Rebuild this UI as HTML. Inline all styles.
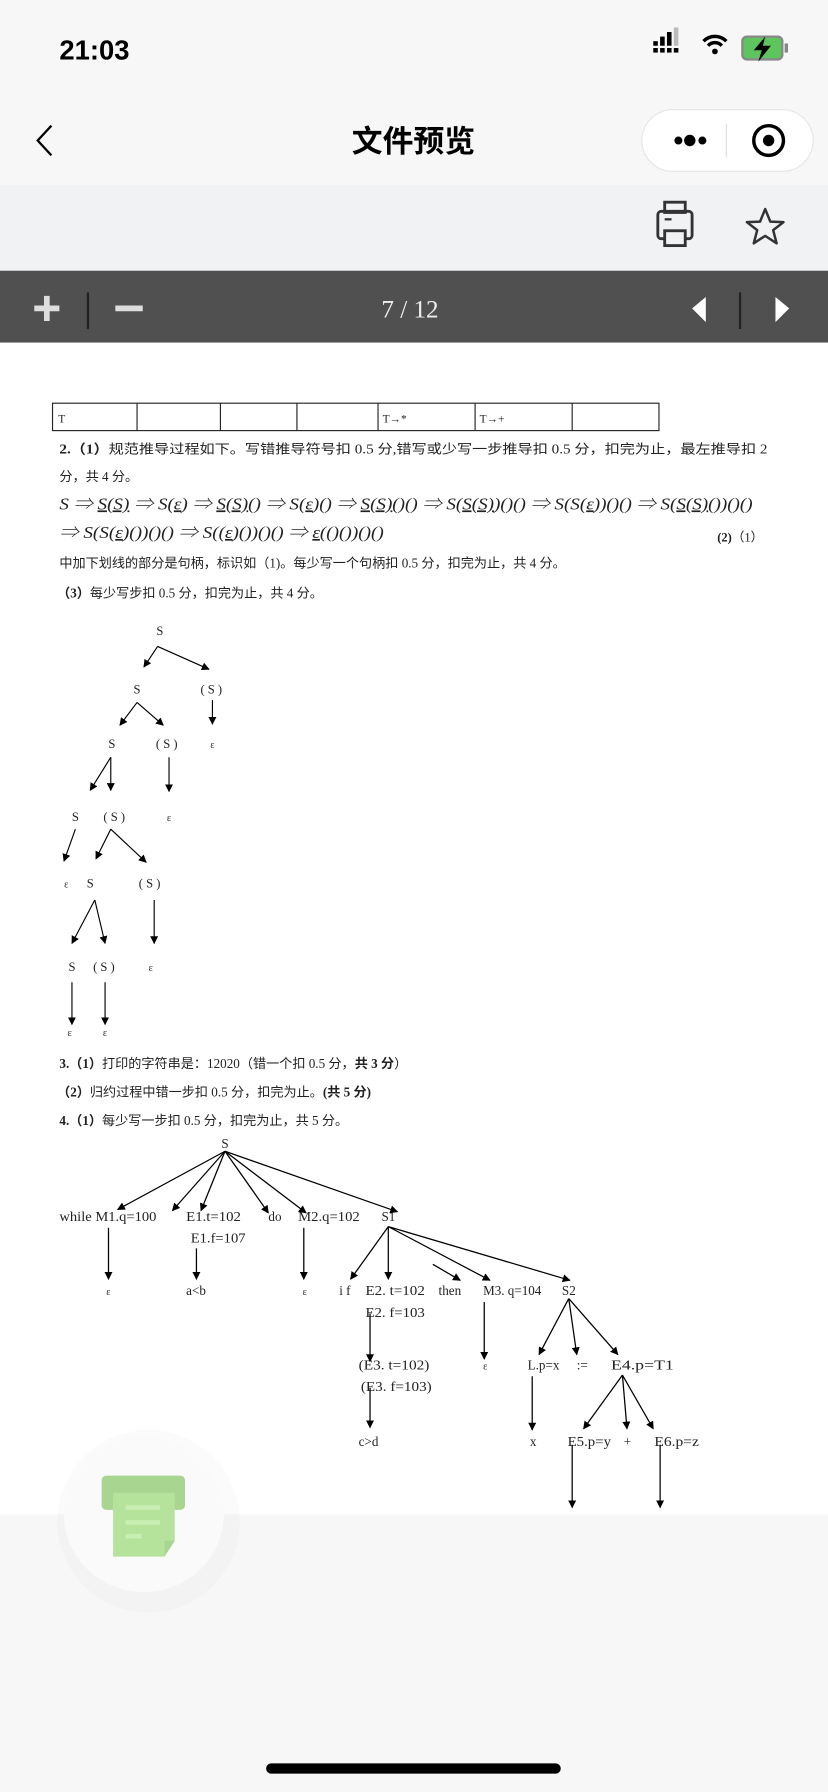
<!DOCTYPE html>
<html><head><meta charset="utf-8"><style>
html,body{margin:0;padding:0;width:828px;height:1792px;overflow:hidden;background:#f7f7f7}
svg{display:block}
.s{font-family:"Liberation Serif","Noto Serif CJK SC",serif;fill:#222}
.c{font-family:"Liberation Serif","Noto Sans CJK SC",serif;fill:#222}
.u{font-family:"Liberation Sans","Noto Sans CJK SC",sans-serif}
.ul{text-decoration:underline}
</style></head><body>
<svg width="828" height="1792" viewBox="0 0 725 1569" xmlns="http://www.w3.org/2000/svg">
<defs>
<marker id="a" viewBox="0 0 10 10" refX="9" refY="5" markerWidth="7" markerHeight="7" orient="auto-start-reverse" markerUnits="userSpaceOnUse"><path d="M0,0 L10,5 L0,10 z" fill="#000"/></marker>
</defs>
<rect x="0" y="0" width="725" height="162" fill="#f7f7f7"/>
<rect x="0" y="162" width="725" height="75" fill="#f1f2f4"/>
<rect x="0" y="237" width="725" height="63" fill="#505050"/>
<rect x="0" y="300" width="725" height="1026" fill="#fff"/>
<text x="52" y="52" class="u" font-size="24" font-weight="bold" fill="#000">21:03</text>
<g fill="#000"><rect x="572" y="42" width="4" height="4"/><rect x="578" y="42" width="4" height="4"/><rect x="584" y="42" width="4" height="4"/><rect x="590" y="42" width="4" height="4"/>
<rect x="572" y="36" width="4" height="4"/><rect x="578" y="32" width="4" height="8"/><rect x="584" y="28" width="4" height="12"/><rect x="590" y="24" width="4" height="16" fill="#bbb"/></g>
<path d="M616,36 a14,14 0 0 1 20,0 M620,40 a8,8 0 0 1 12,0" stroke="#000" stroke-width="3" fill="none"/><circle cx="626" cy="45" r="2.5" fill="#000"/>
<rect x="650" y="32" width="35" height="20" rx="4" fill="#5ec45e" stroke="#888" stroke-width="2"/><rect x="687" y="38" width="3" height="8" fill="#888"/>
<path d="M670,32 L660,44 L667,44 L664,54 L675,40 L668,40 z" fill="#000"/>
<path d="M45,110 L33,123 L45,136" stroke="#000" stroke-width="2" fill="none"/>
<text x="362" y="133" class="u" font-size="27" font-weight="bold" text-anchor="middle" fill="#000">文件预览</text>
<rect x="562" y="96" width="150" height="54" rx="27" fill="#fff" stroke="#e6e6e6"/>
<circle cx="594" cy="123" r="3.5"/><circle cx="604" cy="123" r="5"/><circle cx="615" cy="123" r="3.5"/>
<line x1="636" y1="108" x2="636" y2="138" stroke="#ddd"/>
<circle cx="673" cy="123" r="13" stroke="#000" stroke-width="3" fill="none"/><circle cx="673" cy="123" r="5"/>
<rect x="576" y="185" width="30" height="24" rx="3" fill="none" stroke="#333" stroke-width="2.5"/>
<rect x="582" y="177" width="18" height="9" fill="none" stroke="#333" stroke-width="2.5"/>
<rect x="582" y="202" width="18" height="13" fill="#f1f2f4" stroke="#333" stroke-width="2.5"/>
<line x1="582" y1="192" x2="588" y2="192" stroke="#333" stroke-width="2"/>
<path d="M670,183 L674.5,194 L686,194.5 L677,201.5 L680,213 L670,206.5 L660,213 L663,201.5 L654,194.5 L665.5,194 z" fill="none" stroke="#333" stroke-width="2.2" stroke-linejoin="round"/>
<path d="M30,270 h22 M41,259 v22" stroke="#ddd" stroke-width="5"/>
<line x1="77" y1="256" x2="77" y2="288" stroke="#222" stroke-width="2"/>
<path d="M101,270 h24" stroke="#ddd" stroke-width="5"/>
<text x="359" y="278" class="s" font-size="22" text-anchor="middle" style="fill:#eee">7  /  12</text>
<path d="M618,260 L606,270 L618,282 z" fill="#fff"/>
<line x1="648" y1="256" x2="648" y2="288" stroke="#222" stroke-width="2"/>
<path d="M679,260 L691,270 L679,282 z" fill="#fff"/>
<g stroke="#222" stroke-width="1" fill="none"><rect x="46" y="353" width="531" height="24"/>
<path d="M120,353v24M193,353v24M260,353v24M331,353v24M416,353v24M501,353v24"/></g>
<text x="51" y="370" class="s" font-size="10">T</text>
<text x="335" y="370" class="s" font-size="10">T→*</text>
<text x="420" y="370" class="s" font-size="10">T→+</text>
<text x="52" y="397" class="c" font-size="11.5" textLength="620" lengthAdjust="spacingAndGlyphs"><tspan font-weight="bold">2.（1）</tspan>规范推导过程如下。写错推导符号扣 0.5 分,错写或少写一步推导扣 0.5 分，扣完为止，最左推导扣 2</text>
<text x="52" y="421" class="c" font-size="11.5">分，共 4 分。</text>
<text x="52" y="446" class="s" font-size="15" font-style="italic" textLength="607" lengthAdjust="spacingAndGlyphs">S ⇒ <tspan class="ul">S(S)</tspan> ⇒ S(<tspan class="ul">ε</tspan>) ⇒ <tspan class="ul">S(S)</tspan>() ⇒ S(<tspan class="ul">ε</tspan>)() ⇒ <tspan class="ul">S(S)</tspan>()() ⇒ S(<tspan class="ul">S(S)</tspan>)()() ⇒ S(S(<tspan class="ul">ε</tspan>))()() ⇒ S(<tspan class="ul">S(S)</tspan>())()()</text>
<text x="52" y="471" class="s" font-size="15" font-style="italic" textLength="284" lengthAdjust="spacingAndGlyphs">⇒ S(S(<tspan class="ul">ε</tspan>)())()() ⇒ S((<tspan class="ul">ε</tspan>)())()() ⇒ <tspan class="ul">ε</tspan>(()())()()</text>
<text x="628" y="474" class="c" font-size="11"><tspan font-weight="bold">(2)</tspan>（1）</text>
<text x="52" y="497" class="c" font-size="11.5">中加下划线的部分是句柄，标识如（1)。每少写一个句柄扣 0.5 分，扣完为止，共 4 分。</text>
<text x="50" y="523" class="c" font-size="11.5"><tspan font-weight="bold">（3）</tspan>每少写步扣 0.5 分，扣完为止，共 4 分。</text>
<g class="s" font-size="11" text-anchor="middle">
<text x="140" y="556">S</text><text x="120" y="607">S</text><text x="185" y="607">( S )</text>
<text x="98" y="655">S</text><text x="146" y="655">( S )</text><text x="186" y="655" font-size="9">ε</text>
<text x="66" y="719">S</text><text x="100" y="719">( S )</text><text x="148" y="719" font-size="9">ε</text>
<text x="58" y="777" font-size="9">ε</text><text x="79" y="777">S</text><text x="131" y="777">( S )</text>
<text x="63" y="850">S</text><text x="91" y="850">( S )</text><text x="132" y="850" font-size="9">ε</text>
<text x="61" y="907" font-size="9">ε</text><text x="92" y="907" font-size="9">ε</text>
</g>
<g stroke="#000" stroke-width="1" marker-end="url(#a)">
<line x1="138" y1="566" x2="126" y2="584"/><line x1="138" y1="566" x2="183" y2="586"/>
<line x1="186" y1="613" x2="186" y2="634"/>
<line x1="120" y1="615" x2="105" y2="635"/><line x1="120" y1="615" x2="143" y2="635"/>
<line x1="148" y1="663" x2="148" y2="693"/>
<line x1="97" y1="663" x2="79" y2="692"/><line x1="97" y1="663" x2="97" y2="692"/>
<line x1="66" y1="726" x2="56" y2="754"/>
<line x1="97" y1="726" x2="84" y2="752"/><line x1="97" y1="726" x2="128" y2="755"/>
<line x1="135" y1="788" x2="135" y2="826"/>
<line x1="83" y1="788" x2="63" y2="826"/><line x1="83" y1="788" x2="92" y2="826"/>
<line x1="63" y1="860" x2="63" y2="897"/><line x1="92" y1="860" x2="92" y2="897"/>
</g>
<text x="52" y="935" class="c" font-size="11.5"><tspan font-weight="bold">3.（1）</tspan>打印的字符串是：12020（错一个扣 0.5 分，<tspan font-weight="bold">共 3 分</tspan>）</text>
<text x="50" y="960" class="c" font-size="11.5"><tspan font-weight="bold">（2）</tspan>归约过程中错一步扣 0.5 分，扣完为止。<tspan font-weight="bold">(共 5 分)</tspan></text>
<text x="52" y="985" class="c" font-size="11.5"><tspan font-weight="bold">4.（1）</tspan>每少写一步扣 0.5 分，扣完为止，共 5 分。</text>
<g class="s" font-size="11.5">
<text x="197" y="1005" text-anchor="middle">S</text>
<text x="52" y="1069" textLength="85" lengthAdjust="spacingAndGlyphs">while M1.q=100</text>
<text x="163" y="1069" textLength="48" lengthAdjust="spacingAndGlyphs">E1.t=102</text>
<text x="235" y="1069">do</text>
<text x="261" y="1069" textLength="54" lengthAdjust="spacingAndGlyphs">M2.q=102</text>
<text x="334" y="1069">S1</text>
<text x="167" y="1088" textLength="48" lengthAdjust="spacingAndGlyphs">E1.f=107</text>
<text x="93" y="1134" font-size="9">ε</text>
<text x="163" y="1134">a&lt;b</text>
<text x="265" y="1134" font-size="9">ε</text>
<text x="297" y="1134">i f</text>
<text x="320" y="1134" textLength="52" lengthAdjust="spacingAndGlyphs">E2. t=102</text>
<text x="384" y="1134">then</text>
<text x="423" y="1134" textLength="51" lengthAdjust="spacingAndGlyphs">M3. q=104</text>
<text x="492" y="1134">S2</text>
<text x="320" y="1153" textLength="52" lengthAdjust="spacingAndGlyphs">E2. f=103</text>
<text x="314" y="1199" textLength="62" lengthAdjust="spacingAndGlyphs">(E3. t=102)</text>
<text x="423" y="1199" font-size="9">ε</text>
<text x="462" y="1199">L.p=x</text>
<text x="505" y="1199">:=</text>
<text x="535" y="1199" font-size="11.5" textLength="55" lengthAdjust="spacingAndGlyphs">E4.p=T1</text>
<text x="316" y="1218" textLength="62" lengthAdjust="spacingAndGlyphs">(E3. f=103)</text>
<text x="314" y="1266">c&gt;d</text>
<text x="464" y="1266">x</text>
<text x="497" y="1266" textLength="38" lengthAdjust="spacingAndGlyphs">E5.p=y</text>
<text x="546" y="1266">+</text>
<text x="573" y="1266" textLength="39" lengthAdjust="spacingAndGlyphs">E6.p=z</text>
</g>
<g stroke="#000" stroke-width="1.1" marker-end="url(#a)">
<line x1="197" y1="1008" x2="103" y2="1059"/><line x1="197" y1="1008" x2="151" y2="1060"/>
<line x1="197" y1="1008" x2="176" y2="1060"/><line x1="197" y1="1008" x2="235" y2="1062"/>
<line x1="197" y1="1008" x2="268" y2="1062"/><line x1="197" y1="1008" x2="348" y2="1061"/>
<line x1="95" y1="1075" x2="95" y2="1120"/><line x1="172" y1="1093" x2="172" y2="1120"/>
<line x1="266" y1="1075" x2="266" y2="1120"/>
<line x1="340" y1="1074" x2="307" y2="1120"/><line x1="340" y1="1074" x2="340" y2="1120"/>
<line x1="379" y1="1107" x2="403" y2="1121"/><line x1="340" y1="1074" x2="429" y2="1121"/>
<line x1="340" y1="1074" x2="499" y2="1121"/>
<line x1="324" y1="1150" x2="324" y2="1192"/><line x1="424" y1="1140" x2="424" y2="1190"/>
<line x1="498" y1="1137" x2="472" y2="1186"/><line x1="498" y1="1137" x2="505" y2="1186"/>
<line x1="498" y1="1137" x2="541" y2="1186"/>
<line x1="466" y1="1205" x2="466" y2="1252"/><line x1="324" y1="1215" x2="324" y2="1250"/>
<line x1="545" y1="1204" x2="511" y2="1251"/><line x1="545" y1="1204" x2="549" y2="1251"/>
<line x1="545" y1="1204" x2="572" y2="1251"/>
<line x1="501" y1="1265" x2="501" y2="1320"/><line x1="578" y1="1265" x2="578" y2="1320"/>
</g>
<ellipse cx="130" cy="1332" rx="80" ry="80" fill="#000" opacity="0.015"/>
<ellipse cx="126" cy="1326" rx="70" ry="68" fill="#fafafa"/>
<rect x="89" y="1292" width="73" height="30" rx="4" fill="#a8d58f"/>
<path d="M99,1307 H153 V1349 L144,1363 H99 z" fill="#b5e39b"/>
<path d="M144,1363 L153,1349 H144 z" fill="#a8d58f"/>
<rect x="110" y="1318" width="30" height="4" fill="#c9eeb4"/><rect x="110" y="1331" width="30" height="4" fill="#c9eeb4"/><rect x="110" y="1343" width="14" height="4" fill="#c9eeb4"/>
<rect x="233" y="1544" width="258" height="9" rx="4.5" fill="#000"/>
</svg>
</body></html>
